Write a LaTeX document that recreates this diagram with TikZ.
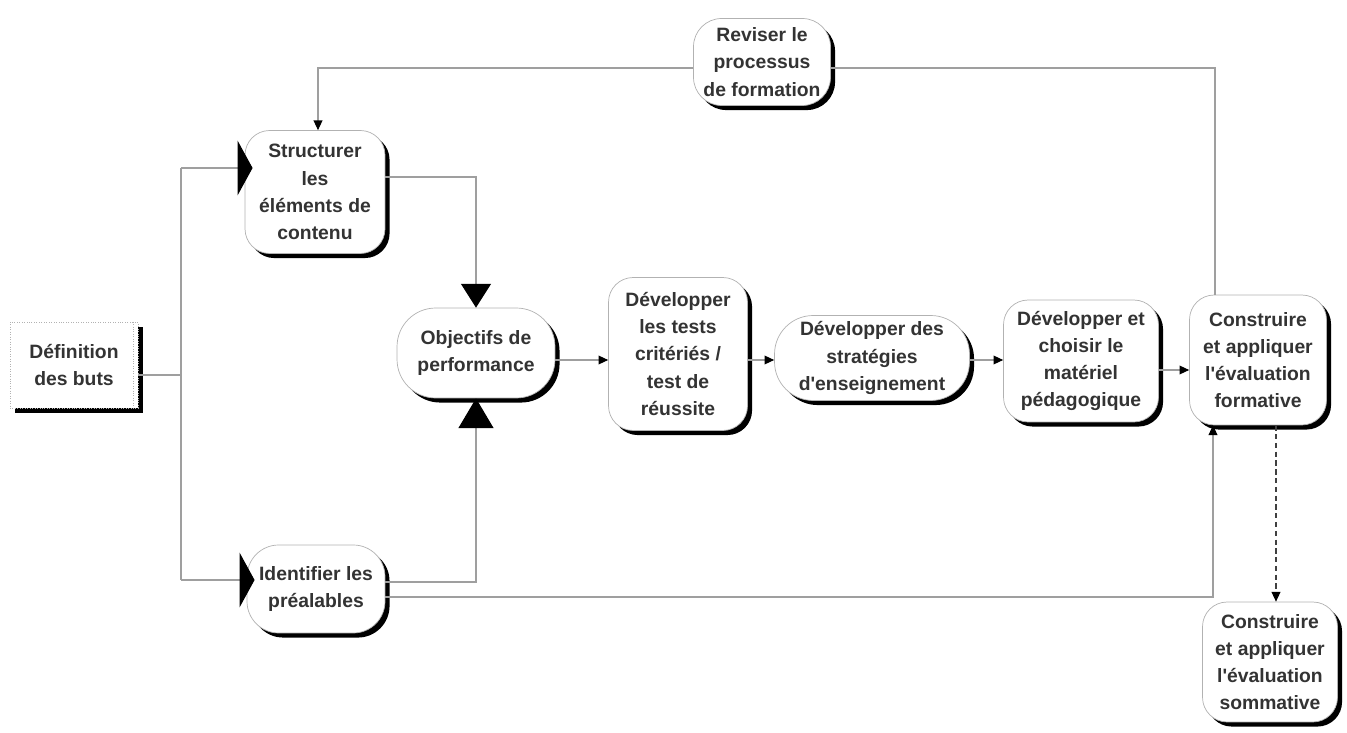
\documentclass[tikz,border=0pt]{standalone}
\usepackage{fontspec}
\setmainfont{Liberation Sans}
\usetikzlibrary{arrows.meta}
\usetikzlibrary{shadows}

\begin{document}
\begin{tikzpicture}[x=0.02cm, y=-0.02cm,
    stage/.style={draw=gray!60, fill=white, rounded corners=14pt, align=center,
        inner sep=0pt, text=black!80, font=\fontsize{11}{15.5}\selectfont\bfseries,
        drop shadow={shadow xshift=2.6pt, shadow yshift=-2.6pt, fill=black, opacity=1}},
    flow/.style={draw=gray!75, line width=0.6pt},
    smalltip/.tip={Triangle[color=black, length=5.5pt, width=5pt]},
    bigside/.tip={Triangle[color=black, length=8.5pt, width=31pt]},
    bigtop/.tip={Triangle[color=black, length=13.5pt, width=17pt]},
    bigbottom/.tip={Triangle[color=black, length=17pt, width=20pt]},
  ]
  \useasboundingbox (0,0) rectangle (1347,733);

  % Nodes
  \node (def) [stage, rounded corners=0pt, densely dotted, minimum width=2.56cm, minimum height=1.72cm]
      at (74,365) {Définition\\des buts};
  \draw [gray!60, densely dotted] ([xshift=-0.1cm]def.north east) -- ([xshift=-0.1cm]def.south east);
  \node (str) [stage, minimum width=2.8cm, minimum height=2.46cm]
      at (315,192) {Structurer\\les\\éléments de\\contenu};
  \node (ide) [stage, rounded corners=18pt, minimum width=2.76cm, minimum height=1.76cm]
      at (316,589) {Identifier les\\préalables};
  \node (obj) [stage, rounded corners=22pt, minimum width=3.16cm, minimum height=1.8cm]
      at (476,353) {Objectifs de\\performance};
  \node (tests) [stage, minimum width=2.78cm, minimum height=3.06cm]
      at (678,354) {Développer\\les tests\\critériés /\\test de\\réussite};
  \node (strat) [stage, rounded corners=22pt, minimum width=3.9cm, minimum height=1.7cm]
      at (872,358) {Développer des\\stratégies\\d\textquotesingle enseignement};
  \node (mat) [stage, minimum width=3.1cm, minimum height=2.44cm]
      at (1081,361) {Développer et\\choisir le\\matériel\\pédagogique};
  \node (form) [stage, minimum width=2.74cm, minimum height=2.6cm]
      at (1258,360) {Construire\\et appliquer\\l\textquotesingle évaluation\\formative};
  \node (som) [stage, minimum width=2.7cm, minimum height=2.4cm]
      at (1270,662) {Construire\\et appliquer\\l\textquotesingle évaluation\\sommative};
  \node (rev) [stage, rounded corners=16pt, minimum width=2.74cm, minimum height=1.74cm]
      at (762,62) {Reviser le\\processus\\de formation};

  % Turning points
  \coordinate (busmid) at (181,375);
  \coordinate (bustop) at (181,168);
  \coordinate (busbot) at (181,580);
  \coordinate (strout) at (476,177);
  \coordinate (ideout) at (476,582);
  \coordinate (formin) at (1213,597);
  \coordinate (revleft) at (318,68);
  \coordinate (revright) at (1215,68);
  \coordinate (row) at (0,360);
  \coordinate (rowb) at (0,370);
  \coordinate (dashx) at (1276,0);

  % Connectors
  \draw [flow] (def.east |- busmid) -- (busmid);
  \draw [flow] (bustop) -- (busbot);
  \draw [flow, -{bigside}, shorten >=-4.5pt] (bustop) -- (str.west |- bustop);
  \draw [flow, -{bigside}, shorten >=-4.5pt] (busbot) -- (ide.west |- busbot);
  \draw [flow, -{bigtop}] (str.east |- strout) -- (strout) -- (obj.north);
  \draw [flow, -{bigbottom}] (ide.east |- ideout) -- (ideout) -- (obj.south);
  \draw [flow, -{smalltip}] (obj.east |- row) -- (tests.west |- row);
  \draw [flow, -{smalltip}] (tests.east |- row) -- (strat.west |- row);
  \draw [flow, -{smalltip}] (strat.east |- row) -- (mat.west |- row);
  \draw [flow, -{smalltip}] (mat.east |- rowb) -- (form.west |- rowb);
  \draw [flow, -{smalltip}] (ide.east |- formin) -- (formin) -- (form.south -| formin);
  \draw [flow] (form.north -| revright) -- (revright) -- (rev.east |- revright);
  \draw [flow, -{smalltip}] (rev.west |- revleft) -- (revleft) -- (str.north -| revleft);
  \draw [flow, draw=black!75, densely dashed, -{smalltip}] (form.south -| dashx) -- (som.north -| dashx);
\end{tikzpicture}
\end{document}
